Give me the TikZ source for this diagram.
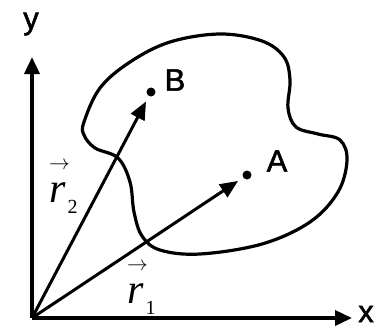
\documentclass[tikz,border=0pt]{standalone}
\usepackage{fontspec}
\setmainfont{Liberation Sans}
\newfontfamily\lblfont[FakeBold=1.6]{Liberation Sans}
\newfontfamily\timesfont{Liberation Serif}
\usetikzlibrary{arrows.meta}
\newcommand{\posvec}[1]{\rlap{\raisebox{33pt}{\fontsize{22}{24}\selectfont$\rightarrow$}}{\timesfont\itshape r}\kern2pt\raisebox{-11pt}{\timesfont\fontsize{20}{22}\selectfont #1}}

\begin{document}
\begin{tikzpicture}[x=1pt,y=-1pt,
  axis/.style={line width=3.6pt,-{Triangle[length=17pt,width=15pt]}},
  vecline/.style={line width=3pt,-{Triangle[length=18pt,width=15pt]},shorten >=6pt},
  dot/.style={circle,fill,inner sep=0pt,minimum size=9pt},
  lbl/.style={font=\lblfont\fontsize{31}{33}\selectfont},
  rlbl/.style={font=\fontsize{42}{44}\selectfont,anchor=base west,inner sep=0pt}]
  \useasboundingbox (0,0) rectangle (375,333);
  \coordinate (O) at (32,318);
  \coordinate (xend) at (352,318);
  \coordinate (yend) at (32,57);
  \draw[axis] (O) -- (xend);
  \draw[axis] (O) -- (yend);
  \node[lbl] (xl) at (366,314) {x};
  \node[lbl] (yl) at (31,24) {y};
  % region boundary
  \draw[line width=3.2pt] plot[smooth cycle,tension=0.6] coordinates {
    (84,122) (100,88) (130,62) (170,42) (220,34) (262,41) (284,57)
    (290,80) (288,108) (296,127) (318,134) (340,140) (347,160) (338,192)
    (310,222) (262,244) (200,254) (160,250) (142,236) (134,212)
    (130,182) (118,158) (95,148) (84,135)};
  \node[dot] (B) at (151,92) {};
  \node[dot] (A) at (247,175) {};
  \node[lbl] (Bl) at (175,80) {B};
  \node[lbl] (Al) at (277,161) {A};
  \draw[vecline] (O) -- (B);
  \draw[vecline] (O) -- (A);
  \node[rlbl] (r2) at (49,202) {\posvec{2}};
  \node[rlbl] (r1) at (127,303) {\posvec{1}};
\end{tikzpicture}
\end{document}
